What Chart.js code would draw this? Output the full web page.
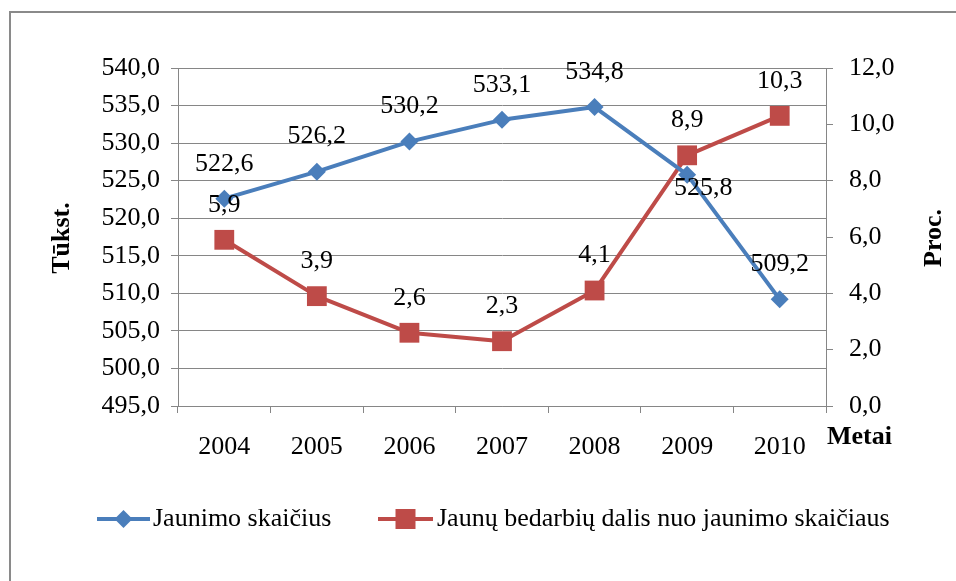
<!DOCTYPE html>
<html><head><meta charset="utf-8">
<script src="https://cdn.jsdelivr.net/npm/chart.js@4/dist/chart.umd.min.js"></script>
<style>html,body{margin:0;padding:0;background:#fff;}</style>
</head><body>
<canvas id="c" width="956" height="581" style="display:block;width:956px;height:581px"></canvas>
<script>
// ---- data ----
const years = ['2004', '2005', '2006', '2007', '2008', '2009', '2010'];
const youthCount = [522.6, 526.2, 530.2, 533.1, 534.8, 525.8, 509.2];      // thousands (left axis)
const unemployedShare = [5.9, 3.9, 2.6, 2.3, 4.1, 8.9, 10.3];              // percent (right axis)
const leftTickValues = [495, 500, 505, 510, 515, 520, 525, 530, 535, 540];
const rightTickValues = [0, 2, 4, 6, 8, 10, 12];
const seriesNames = ['Jaunimo skaičius', 'Jaunų bedarbių dalis nuo jaunimo skaičiaus'];
const axisTitles = { left: 'Tūkst.', right: 'Proc.', x: 'Metai' };

const BLUE = '#4A7EBB', RED = '#BE4B48', GRID = '#868686';
const FONT = '"Liberation Serif", "Times New Roman", serif';
const fmt = v => v.toFixed(1).replace('.', ',');

const framePlugin = {
  id: 'frame',
  beforeDraw(chart) {
    const ctx = chart.ctx;
    ctx.save();
    ctx.fillStyle = '#fff';
    ctx.fillRect(0, 0, chart.width, chart.height);
    ctx.strokeStyle = '#8a8a8a';
    ctx.lineWidth = 2;
    ctx.strokeRect(10, 12, chart.width + 40, chart.height + 40);
    ctx.restore();
  }
};

const dataLabelPlugin = {
  id: 'valueLabels',
  afterDatasetsDraw(chart) {
    const ctx = chart.ctx;
    ctx.save();
    ctx.font = '26px ' + FONT;
    ctx.fillStyle = '#000';
    ctx.textAlign = 'center';
    ctx.textBaseline = 'middle';
    chart.data.datasets.forEach((ds, di) => {
      const meta = chart.getDatasetMeta(di);
      meta.data.forEach((pt, i) => {
        const below = (ds.labelBelow || []).includes(i);
        const dx = below ? 16 : 0;
        const dy = below ? 14 : -35;
        ctx.fillText(fmt(ds.data[i]), pt.x + dx, pt.y + dy);
      });
    });
    ctx.restore();
  }
};

const titlesPlugin = {
  id: 'axisTitles',
  afterDraw(chart) {
    const ctx = chart.ctx;
    ctx.save();
    ctx.font = 'bold 26px ' + FONT;
    ctx.fillStyle = '#000';
    ctx.textAlign = 'center';
    ctx.textBaseline = 'middle';
    ctx.save(); ctx.translate(62, 238); ctx.rotate(-Math.PI / 2); ctx.fillText(axisTitles.left, 0, 0); ctx.restore();
    ctx.save(); ctx.translate(934, 238); ctx.rotate(-Math.PI / 2); ctx.fillText(axisTitles.right, 0, 0); ctx.restore();
    ctx.textAlign = 'left';
    ctx.fillText(axisTitles.x, 827, 437);
    ctx.restore();
  }
};

const legendPlugin = {
  id: 'customLegend',
  afterDraw(chart) {
    const ctx = chart.ctx;
    const items = [{ x0: 97, x1: 150, tx: 153 }, { x0: 378, x1: 433, tx: 437 }];
    const y = 519;
    ctx.save();
    chart.data.datasets.forEach((ds, di) => {
      const it = items[di];
      ctx.strokeStyle = ds.borderColor;
      ctx.lineWidth = 4;
      ctx.beginPath(); ctx.moveTo(it.x0, y); ctx.lineTo(it.x1, y); ctx.stroke();
      const cx = (it.x0 + it.x1) / 2;
      ctx.fillStyle = ds.borderColor;
      ctx.beginPath();
      if (ds.pointStyle === 'rectRot') {
        const r = 9;
        ctx.moveTo(cx - r, y); ctx.lineTo(cx, y - r); ctx.lineTo(cx + r, y); ctx.lineTo(cx, y + r);
      } else {
        const s = 10;
        ctx.rect(cx - s, y - s, 2 * s, 2 * s);
      }
      ctx.closePath(); ctx.fill();
      ctx.fillStyle = '#000';
      ctx.font = '26px ' + FONT;
      ctx.textAlign = 'left';
      ctx.textBaseline = 'middle';
      ctx.fillText(ds.label, it.tx, y);
    });
    ctx.restore();
  }
};

new Chart(document.getElementById('c'), {
  type: 'line',
  data: {
    labels: years,
    datasets: [
      {
        label: seriesNames[0], data: youthCount, yAxisID: 'yL',
        borderColor: BLUE, backgroundColor: BLUE, borderWidth: 4,
        pointStyle: 'rectRot', pointRadius: 9, pointBorderWidth: 0,
        pointBackgroundColor: BLUE, tension: 0, labelBelow: [5]
      },
      {
        label: seriesNames[1], data: unemployedShare, yAxisID: 'yR',
        borderColor: RED, backgroundColor: RED, borderWidth: 4,
        pointStyle: 'rect', pointRadius: 14, pointBorderWidth: 0,
        pointBackgroundColor: RED, tension: 0
      }
    ]
  },
  options: {
    responsive: false,
    animation: false,
    devicePixelRatio: 1,
    layout: { padding: { top: 68, left: 0, right: 0, bottom: 0 } },
    plugins: { legend: { display: false }, tooltip: { enabled: false }, title: { display: false } },
    elements: { line: { borderJoinStyle: 'round' } },
    scales: {
      x: {
        type: 'category', offset: true,
        grid: { offset: true, drawOnChartArea: false, drawTicks: true, tickLength: 7, color: GRID },
        border: { display: true, color: GRID },
        ticks: { color: '#000', font: { family: FONT, size: 26 }, padding: 19, maxRotation: 0, autoSkip: false },
        afterFit(s) { s.height = 175; }
      },
      yL: {
        position: 'left',
        min: leftTickValues[0], max: leftTickValues[leftTickValues.length - 1],
        afterBuildTicks(s) { s.ticks = leftTickValues.map(v => ({ value: v })); },
        grid: { color: GRID, tickLength: 7, drawTicks: true },
        border: { display: true, color: GRID },
        ticks: { color: '#000', font: { family: FONT, size: 26 }, padding: 11, autoSkip: false, callback: v => fmt(v) },
        afterFit(s) { s.width = 178; }
      },
      yR: {
        position: 'right',
        min: rightTickValues[0], max: rightTickValues[rightTickValues.length - 1],
        afterBuildTicks(s) { s.ticks = rightTickValues.map(v => ({ value: v })); },
        grid: { drawOnChartArea: false, tickLength: 7, drawTicks: true, color: GRID },
        border: { display: true, color: GRID },
        ticks: { color: '#000', font: { family: FONT, size: 26 }, padding: 16, autoSkip: false, callback: v => fmt(v) },
        afterFit(s) { s.width = 130; }
      }
    }
  },
  plugins: [framePlugin, dataLabelPlugin, titlesPlugin, legendPlugin]
});
</script>
</body></html>
